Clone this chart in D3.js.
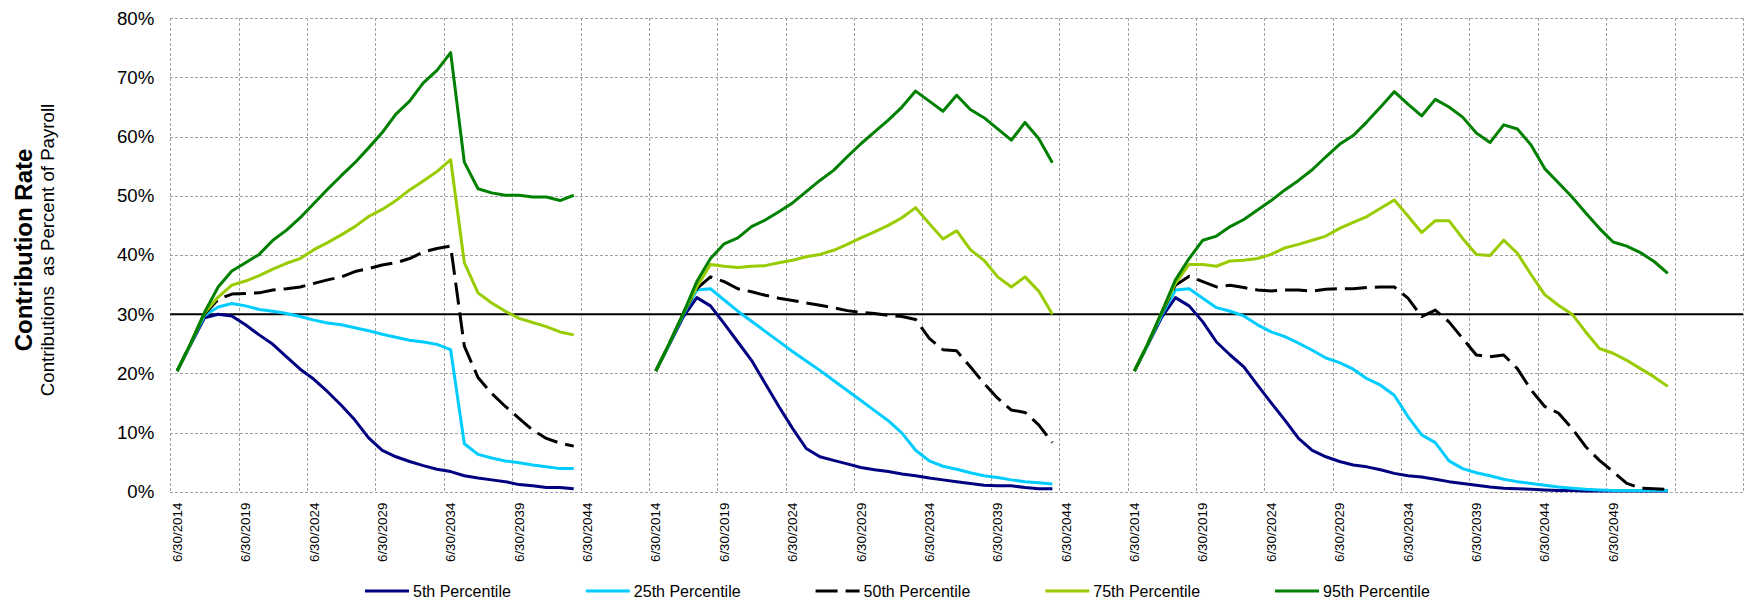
<!DOCTYPE html>
<html>
<head>
<meta charset="utf-8">
<script src="https://cdn.jsdelivr.net/npm/d3@7/dist/d3.min.js"></script>
<style>
  body { margin: 0; background: #fff; }
  svg { font-family: Arial, "Liberation Sans", sans-serif; }
  .grid line { stroke: #a0a0a0; stroke-width: 1px; stroke-dasharray: 3 2; shape-rendering: crispEdges; }
</style>
</head>
<body>
<div id="chart"></div>
<script>
// three scenarios side by side on one category axis (fiscal years ending 6/30)
const panelFirstYear = [2014, 2014, 2014];
const panelLastYear = [2048, 2048, 2058];

const tickLabels1 = ['6/30/2014', '6/30/2019', '6/30/2024', '6/30/2029', '6/30/2034', '6/30/2039', '6/30/2044'];
const tickLabels2 = ['6/30/2014', '6/30/2019', '6/30/2024', '6/30/2029', '6/30/2034', '6/30/2039', '6/30/2044'];
const tickLabels3 = ['6/30/2014', '6/30/2019', '6/30/2024', '6/30/2029', '6/30/2034', '6/30/2039', '6/30/2044', '6/30/2049'];

const seriesNames = ['5th Percentile', '25th Percentile', '50th Percentile', '75th Percentile', '95th Percentile'];
const yTicks = [0, 10, 20, 30, 40, 50, 60, 70, 80];
const threshold = 30;

// panel 1, values in % of payroll, starting 6/30/2014
const p1_5th = [20.4, 24.9, 29.4, 30.0, 29.7, 28.2, 26.5, 24.9, 22.8, 20.7, 19.0, 16.9, 14.6, 12.1, 9.1, 7.0, 5.9, 5.1, 4.4, 3.8, 3.4, 2.7, 2.3, 2.0, 1.7, 1.2, 1.0, 0.7, 0.7, 0.5];
const p1_25th = [20.4, 25.0, 29.8, 31.2, 31.8, 31.4, 30.8, 30.5, 30.1, 29.6, 29.0, 28.5, 28.2, 27.7, 27.2, 26.6, 26.1, 25.6, 25.3, 24.9, 24.0, 8.1, 6.3, 5.7, 5.2, 4.9, 4.5, 4.2, 3.9, 3.9];
const p1_50th = [20.4, 25.1, 30.0, 32.5, 33.4, 33.5, 33.6, 34.1, 34.3, 34.6, 35.2, 35.8, 36.3, 37.2, 37.7, 38.3, 38.7, 39.4, 40.5, 41.1, 41.5, 24.6, 19.3, 16.6, 14.4, 12.4, 10.4, 9.0, 8.2, 7.7];
const p1_75th = [20.4, 25.1, 30.2, 32.9, 34.9, 35.6, 36.5, 37.6, 38.6, 39.4, 40.9, 42.1, 43.4, 44.8, 46.5, 47.7, 49.2, 51.0, 52.5, 54.1, 56.1, 38.7, 33.6, 31.9, 30.5, 29.3, 28.6, 27.9, 27.0, 26.5];
const p1_95th = [20.4, 25.1, 30.3, 34.6, 37.3, 38.7, 40.1, 42.5, 44.2, 46.3, 48.7, 51.1, 53.4, 55.6, 58.1, 60.7, 63.8, 66.0, 69.1, 71.2, 74.2, 55.7, 51.2, 50.5, 50.1, 50.1, 49.8, 49.8, 49.2, 50.1];

// panel 2
const p2_5th = [20.4, 24.9, 29.5, 32.8, 31.4, 28.4, 25.3, 22.2, 18.3, 14.4, 10.7, 7.3, 5.9, 5.3, 4.7, 4.1, 3.7, 3.4, 3.0, 2.7, 2.3, 2.0, 1.7, 1.4, 1.1, 1.0, 1.0, 0.7, 0.5, 0.5];
const p2_25th = [20.4, 25.0, 29.9, 34.1, 34.3, 32.4, 30.5, 28.8, 27.1, 25.4, 23.7, 22.1, 20.5, 18.8, 17.1, 15.4, 13.7, 12.0, 9.9, 7.0, 5.2, 4.3, 3.8, 3.2, 2.7, 2.4, 2.0, 1.7, 1.5, 1.3];
const p2_50th = [20.4, 25.1, 30.1, 34.3, 36.3, 35.5, 34.3, 33.8, 33.2, 32.7, 32.3, 31.9, 31.5, 31.1, 30.6, 30.3, 30.1, 29.8, 29.6, 29.1, 25.9, 24.0, 23.8, 21.1, 18.3, 15.8, 13.8, 13.4, 11.3, 8.3];
const p2_75th = [20.4, 25.1, 30.1, 34.6, 38.4, 38.1, 37.9, 38.1, 38.2, 38.7, 39.1, 39.7, 40.1, 40.8, 41.8, 42.9, 43.9, 45.0, 46.3, 48.0, 45.3, 42.7, 44.1, 40.9, 39.1, 36.3, 34.6, 36.3, 33.9, 30.0];
const p2_95th = [20.4, 25.1, 30.1, 35.5, 39.4, 41.9, 42.9, 44.8, 45.9, 47.3, 48.8, 50.7, 52.6, 54.3, 56.6, 58.8, 60.8, 62.8, 65.0, 67.7, 66.0, 64.3, 67.0, 64.6, 63.2, 61.3, 59.4, 62.4, 59.7, 55.6];

// panel 3
const p3_5th = [20.4, 24.9, 29.5, 32.8, 31.4, 28.7, 25.3, 23.1, 21.1, 18.0, 15.0, 12.1, 9.0, 7.0, 5.9, 5.1, 4.5, 4.2, 3.7, 3.1, 2.7, 2.5, 2.1, 1.7, 1.4, 1.1, 0.8, 0.6, 0.5, 0.4, 0.3, 0.2, 0.2, 0.1, 0.1, 0.1, 0.1, 0.1, 0.1, 0.1];
const p3_25th = [20.4, 25.0, 29.9, 34.1, 34.3, 32.7, 31.1, 30.5, 29.7, 28.2, 27.0, 26.2, 25.1, 23.9, 22.6, 21.8, 20.7, 19.1, 18.0, 16.3, 12.7, 9.6, 8.3, 5.2, 3.9, 3.2, 2.7, 2.1, 1.7, 1.4, 1.1, 0.8, 0.6, 0.4, 0.3, 0.2, 0.2, 0.2, 0.2, 0.2];
const p3_50th = [20.4, 25.1, 30.2, 34.9, 36.4, 35.5, 34.6, 34.9, 34.5, 34.1, 33.9, 34.1, 34.1, 33.9, 34.2, 34.3, 34.3, 34.5, 34.6, 34.6, 32.7, 29.6, 30.7, 28.7, 25.9, 23.1, 22.8, 23.1, 20.8, 17.2, 14.4, 13.3, 10.7, 7.6, 5.3, 3.4, 1.4, 0.6, 0.5, 0.4];
const p3_75th = [20.4, 25.1, 30.3, 35.2, 38.4, 38.4, 38.1, 39.0, 39.1, 39.4, 40.1, 41.2, 41.8, 42.5, 43.2, 44.5, 45.5, 46.5, 47.9, 49.3, 46.6, 43.8, 45.8, 45.8, 42.8, 40.1, 39.9, 42.5, 40.3, 36.7, 33.3, 31.5, 30.0, 27.0, 24.2, 23.4, 22.2, 20.8, 19.4, 17.8];
const p3_95th = [20.4, 25.1, 30.4, 35.8, 39.4, 42.5, 43.2, 44.8, 46.0, 47.6, 49.2, 51.0, 52.6, 54.4, 56.6, 58.7, 60.2, 62.5, 65.0, 67.6, 65.5, 63.5, 66.3, 65.0, 63.3, 60.6, 59.0, 62.0, 61.3, 58.6, 54.6, 52.2, 49.8, 47.1, 44.5, 42.2, 41.5, 40.4, 38.9, 36.9];

const panels = [
  { ticks: tickLabels1, series: [p1_5th, p1_25th, p1_50th, p1_75th, p1_95th] },
  { ticks: tickLabels2, series: [p2_5th, p2_25th, p2_50th, p2_75th, p2_95th] },
  { ticks: tickLabels3, series: [p3_5th, p3_25th, p3_50th, p3_75th, p3_95th] },
];

const colors = ['#000080', '#00ccff', '#000000', '#99cc00', '#008000'];
const dashes = [null, null, '22,8', null, null];

const W = 1749, H = 603;
const margin = { top: 18.3, right: 6, bottom: 111.3, left: 170.3 };

// category keys like "0|2014"
const categories = [];
panelFirstYear.forEach((y0, p) => {
  d3.range(y0, panelLastYear[p] + 1).forEach(yr => categories.push(p + '|' + yr));
});

const svg = d3.select('#chart').append('svg').attr('width', W).attr('height', H);

const x = d3.scaleBand().domain(categories).range([margin.left, W - margin.right]).padding(0);
const y = d3.scaleLinear().domain([0, 80]).range([H - margin.bottom, margin.top]);
const bw = x.bandwidth();

// grid: dashed gray, horizontal at every 10%, vertical every 5 categories
const grid = svg.append('g').attr('class', 'grid');
yTicks.forEach(v => {
  const yy = Math.round(y(v)) + 0.5;
  grid.append('line')
    .attr('x1', margin.left).attr('x2', W - margin.right)
    .attr('y1', yy).attr('y2', yy);
});
const vBounds = categories.filter((c, i) => i % 5 === 0).map(c => x(c)).concat([W - margin.right]);
vBounds.forEach(v => {
  const xx = Math.round(v) + 0.5;
  grid.append('line')
    .attr('x1', xx).attr('x2', xx)
    .attr('y1', y(80)).attr('y2', y(0));
});

// y axis
const yAxis = svg.append('g').attr('transform', `translate(${margin.left},0)`)
  .call(d3.axisLeft(y).tickValues(yTicks).tickSize(0).tickPadding(16).tickFormat(d => d + '%'));
yAxis.select('.domain').remove();
yAxis.selectAll('text').style('font-size', '18.67px').attr('fill', '#000');

// x axis
const tickKeys = [];
const tickText = {};
panels.forEach((pn, p) => pn.ticks.forEach(t => {
  const k = p + '|' + t.slice(-4);
  tickKeys.push(k);
  tickText[k] = t;
}));
const xAxis = svg.append('g').attr('transform', `translate(0,${y(0)})`)
  .call(d3.axisBottom(x).tickValues(tickKeys).tickSize(0).tickFormat(k => tickText[k]));
xAxis.select('.domain').remove();
xAxis.selectAll('text')
  .attr('transform', 'rotate(-90)')
  .attr('x', -11).attr('y', 0).attr('dy', '0.35em')
  .style('text-anchor', 'end').style('font-size', '13.33px').attr('fill', '#000');

// 30% reference line
svg.append('line')
  .attr('x1', margin.left).attr('x2', W - margin.right)
  .attr('y1', y(threshold)).attr('y2', y(threshold))
  .attr('stroke', '#000').attr('stroke-width', 2);

// series lines
panels.forEach((pn, p) => {
  pn.series.forEach((vals, s) => {
    const line = d3.line()
      .x((d, i) => x(p + '|' + (panelFirstYear[p] + i)) + bw / 2)
      .y(d => y(d));
    svg.append('path')
      .datum(vals)
      .attr('d', line)
      .attr('fill', 'none')
      .attr('stroke', colors[s])
      .attr('stroke-width', 3)
      .attr('stroke-linejoin', 'round')
      .attr('stroke-dasharray', dashes[s]);
  });
});

// y axis title
const titleG = svg.append('g').attr('transform', 'translate(0,250) rotate(-90)');
titleG.append('text').attr('x', 0).attr('y', 32).attr('text-anchor', 'middle')
  .style('font-size', '24px').style('font-weight', 'bold').text('Contribution Rate');
titleG.append('text').attr('x', 0).attr('y', 54).attr('text-anchor', 'middle')
  .style('font-size', '18.67px').style('white-space', 'pre')
  .text('Contributions  as Percent of Payroll');

// legend
const legend = svg.append('g').attr('transform', 'translate(365,591)');
let lx = 0;
seriesNames.forEach((name, s) => {
  const g = legend.append('g').attr('transform', `translate(${lx},0)`);
  g.append('line').attr('x1', 0).attr('x2', 44).attr('y1', 0).attr('y2', 0)
    .attr('stroke', colors[s]).attr('stroke-width', 3).attr('stroke-dasharray', dashes[s]);
  const t = g.append('text').attr('x', 48).attr('y', 0).attr('dy', '0.35em')
    .style('font-size', '16px').text(name);
  lx += 48 + t.node().getComputedTextLength() + 75;
});
</script>
</body>
</html>
